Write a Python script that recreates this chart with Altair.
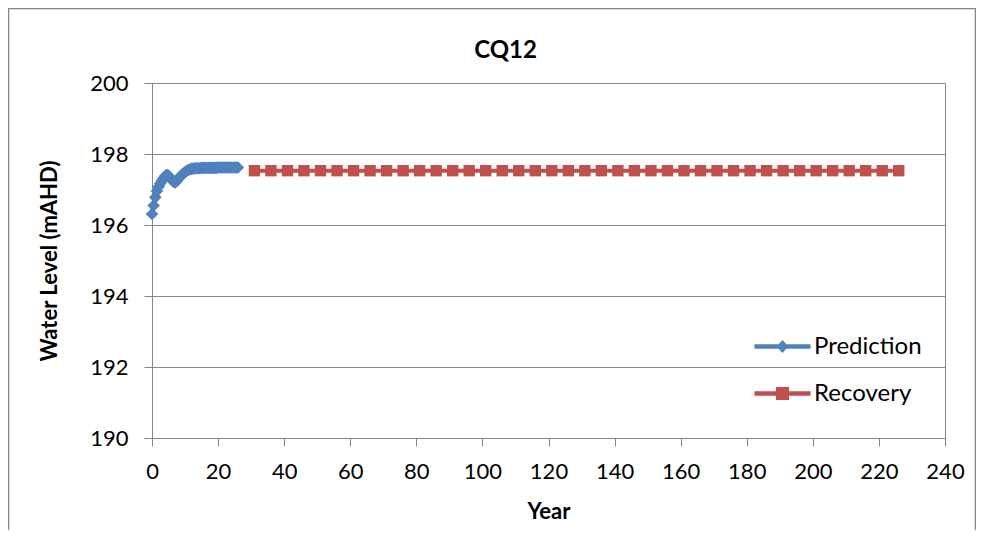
import altair as alt
import pandas as pd

# ---- data ----
pred_year = [0, 0.5, 1, 1.5, 2, 2.5, 3, 3.5, 4, 4.5, 5, 5.5, 6, 6.5, 7, 7.5, 8, 8.5, 9,
             9.5, 10, 10.5, 11, 11.5, 12, 12.5, 13, 13.5, 14, 14.5, 15, 15.5, 16, 16.5,
             17, 17.5, 18, 18.5, 19, 19.5, 20, 20.5, 21, 21.5, 22, 22.5, 23, 23.5, 24,
             24.5, 25, 25.5, 26]
pred_level = [196.31, 196.55, 196.78, 196.96, 197.08, 197.17, 197.25, 197.32, 197.38,
              197.41, 197.39, 197.33, 197.27, 197.22, 197.20, 197.24, 197.30, 197.36,
              197.41, 197.45, 197.49, 197.52, 197.55, 197.57, 197.58, 197.59, 197.60,
              197.60, 197.60, 197.60, 197.61, 197.61, 197.61, 197.61, 197.61, 197.61,
              197.61, 197.61, 197.61, 197.61, 197.62, 197.62, 197.62, 197.62, 197.62,
              197.62, 197.62, 197.62, 197.62, 197.62, 197.62, 197.62, 197.62]
rec_year = [31, 36, 41, 46, 51, 56, 61, 66, 71, 76, 81, 86, 91, 96, 101, 106, 111, 116,
            121, 126, 131, 136, 141, 146, 151, 156, 161, 166, 171, 176, 181, 186, 191,
            196, 201, 206, 211, 216, 221, 226]
rec_level = [197.53] * len(rec_year)

series_names = ["Prediction", "Recovery"]
series_colors = ["#4F81BD", "#C0504D"]
x_ticks = list(range(0, 241, 10))
y_ticks = list(range(190, 201, 1))

pred = pd.DataFrame({"Year": pred_year, "Level": pred_level, "Series": "Prediction"})
rec = pd.DataFrame({"Year": rec_year, "Level": rec_level, "Series": "Recovery"})
alldata = pd.concat([pred, rec], ignore_index=True)

FONT = "Lato"
GRAY = "#868686"

x_enc = alt.X("Year:Q",
              scale=alt.Scale(domain=[0, 240], nice=False, zero=False),
              axis=alt.Axis(values=x_ticks, grid=False, title="Year",
                            labelExpr="datum.value % 20 === 0 ? datum.label : ''",
                            tickSize={"condition": {"test": "datum.value % 20 === 0", "value": 8}, "value": 5},
                            labelPadding=15, titlePadding=19,
                            labelFlush=False, labelOverlap=False))
y_enc = alt.Y("Level:Q",
              scale=alt.Scale(domain=[190, 200], nice=False, zero=False),
              axis=alt.Axis(values=y_ticks, title="Water Level (mAHD)",
                            labelExpr="datum.value % 2 === 0 ? datum.label : ''",
                            tickSize={"condition": {"test": "datum.value % 2 === 0", "value": 8}, "value": 5},
                            gridOpacity={"condition": {"test": "datum.value % 2 === 0", "value": 1}, "value": 0},
                            labelPadding=16, titlePadding=28,
                            labelFlush=False, labelOverlap=False))

pred_line = alt.Chart(pred).mark_line(color=series_colors[0], strokeWidth=5).encode(x=x_enc, y=y_enc)
pred_pts = alt.Chart(pred).mark_point(shape="diamond", filled=True, size=160, opacity=1,
                                      color=series_colors[0]).encode(x="Year:Q", y="Level:Q")
rec_line = alt.Chart(rec).mark_line(color=series_colors[1], strokeWidth=4).encode(x="Year:Q", y="Level:Q")
rec_pts = alt.Chart(rec).mark_point(shape="square", filled=True, size=130, opacity=1,
                                    color=series_colors[1]).encode(x="Year:Q", y="Level:Q")

leg_paths = ["M-1.17,0L1.17,0M0,-0.13L0.12,0L0,0.13L-0.12,0Z",
             "M-1.17,0L1.17,0M-0.18,-0.18L0.18,-0.18L0.18,0.18L-0.18,0.18Z"]
legend = alt.Legend(title=None, orient="none", legendX=604, legendY=237, padding=0,
                    rowPadding=8, symbolSize=2304, symbolStrokeWidth=4.5, symbolOpacity=1,
                    labelFont=FONT, labelFontSize=24, labelColor="black", labelOffset=5,
                    labelLimit=300)
sc_fill = alt.Scale(domain=series_names, range=series_colors)
leg_layer = alt.Chart(alldata).transform_filter("false").mark_point(filled=True, opacity=1).encode(
    x="Year:Q", y="Level:Q",
    fill=alt.Fill("Series:N", scale=sc_fill, legend=legend),
    stroke=alt.Stroke("Series:N", scale=sc_fill, legend=legend),
    shape=alt.Shape("Series:N", scale=alt.Scale(domain=series_names, range=leg_paths), legend=legend),
)

frame_df = pd.DataFrame({"k": [0]})
frame = alt.Chart(frame_df).mark_rect(fill=None, stroke=GRAY, strokeWidth=1.5).encode(
    x=alt.value(-143.5), x2=alt.value(823.5), y=alt.value(-74.5), y2=alt.value(480))

chart = alt.layer(frame, pred_line, pred_pts, rec_line, rec_pts, leg_layer).properties(
    width=793, height=355,
    title=alt.TitleParams("CQ12", font=FONT, fontSize=24, fontWeight="bold", color="black",
                          anchor="middle", dx=-43, offset=-55),
    autosize=alt.AutoSizeParams(type="none"),
    padding={"left": 144, "top": 75, "right": 31, "bottom": 92},
    background="white",
).configure_view(stroke=GRAY, strokeWidth=1).configure_axis(
    domainColor=GRAY, tickColor=GRAY, gridColor=GRAY, labelColor="black",
    labelFont=FONT, labelFontSize=22, titleFont=FONT, titleFontSize=22,
    titleFontWeight="bold", titleColor="black"
)

chart.save("out.html", embed_options={"renderer": "svg", "actions": False})
